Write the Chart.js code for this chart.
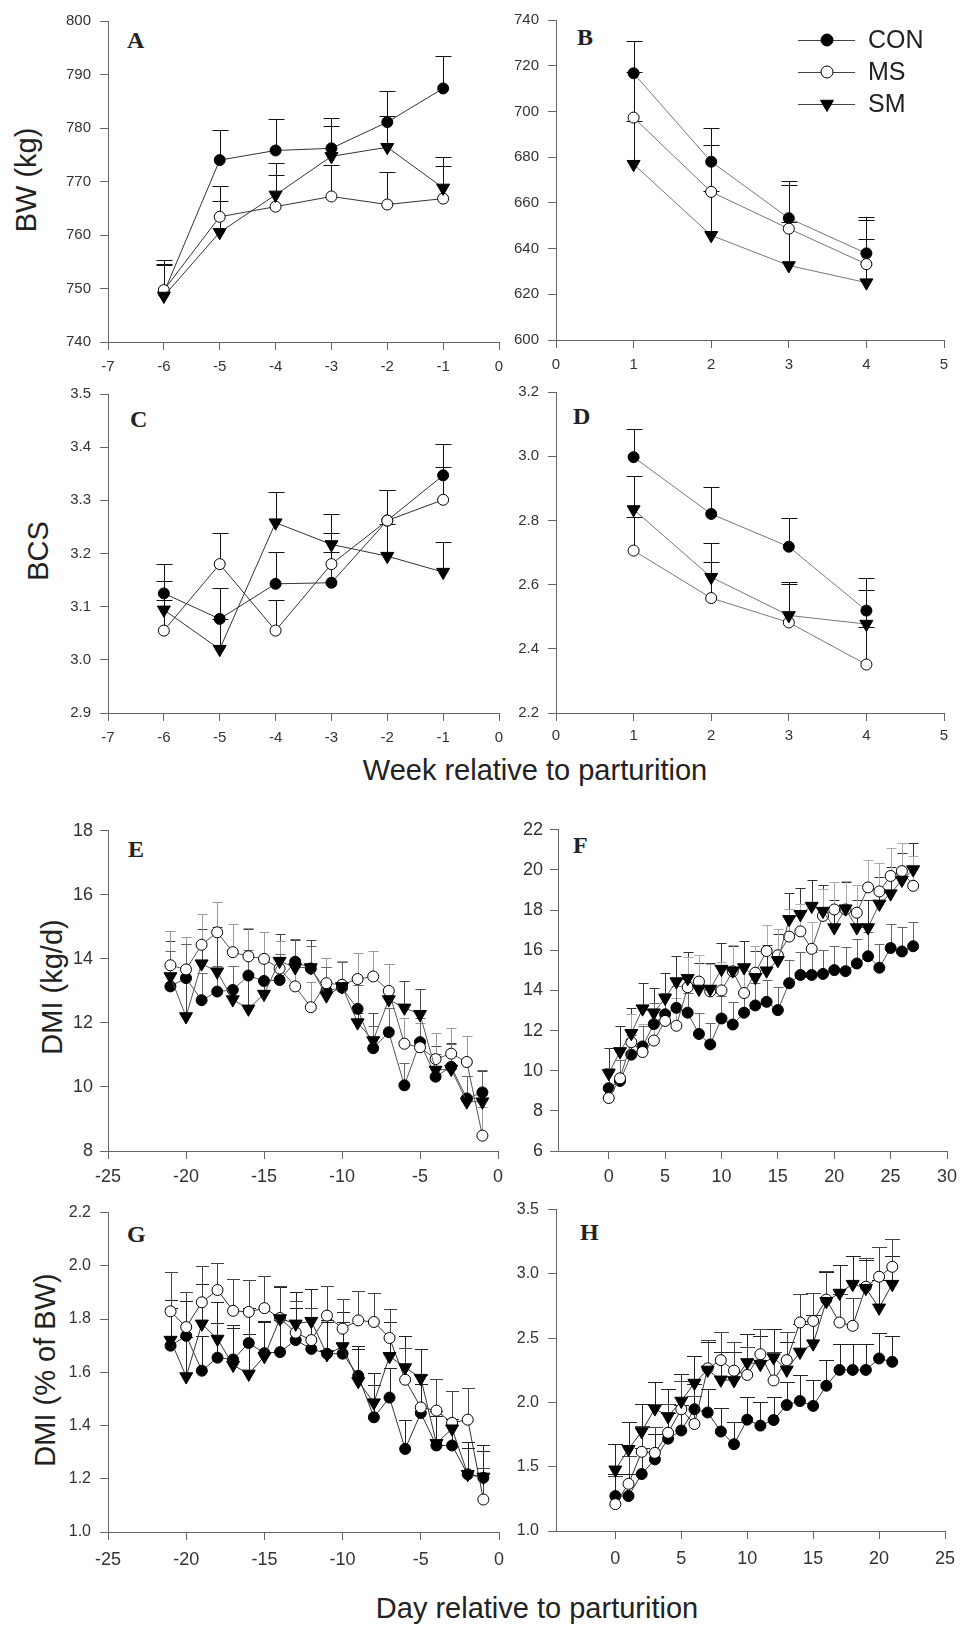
<!DOCTYPE html>
<html>
<head>
<meta charset="utf-8">
<script src="https://cdn.jsdelivr.net/npm/chart.js@4.4.1/dist/chart.umd.min.js"></script>
<style>
  body { margin: 0; background: #fff; width: 963px; height: 1625px; position: relative; overflow: hidden;
         font-family: "Liberation Sans", Arial, sans-serif; color: #222; }
  canvas { position: absolute; }
  .ytitle { position: absolute; font-size: 29px; line-height: 29px; white-space: nowrap;
            transform: translate(-50%, -50%) rotate(-90deg); }
  .xtitle { position: absolute; font-size: 29px; line-height: 29px; white-space: nowrap; transform: translateX(-50%); }
  .letter { position: absolute; font-family: "Liberation Serif", "Times New Roman", serif; font-weight: bold;
            font-size: 24px; line-height: 24px; }
</style>
</head>
<body>
<div class="ytitle" style="left:26px; top:180px;">BW (kg)</div>
<div class="ytitle" style="left:38px; top:551px;">BCS</div>
<div class="ytitle" style="left:52px; top:987px;">DMI (kg/d)</div>
<div class="ytitle" style="left:45px; top:1370px;">DMI (% of BW)</div>
<div class="xtitle" style="left:535px; top:756px;">Week relative to parturition</div>
<div class="xtitle" style="left:537px; top:1594px;">Day relative to parturition</div>
<div class="letter" style="left:127px; top:28px;">A</div>
<div class="letter" style="left:577px; top:25px;">B</div>
<div class="letter" style="left:130px; top:407px;">C</div>
<div class="letter" style="left:573px; top:404px;">D</div>
<div class="letter" style="left:128px; top:837px;">E</div>
<div class="letter" style="left:573px; top:833px;">F</div>
<div class="letter" style="left:127px; top:1222px;">G</div>
<div class="letter" style="left:580px; top:1220px;">H</div>

<script>
// x values
const weeksPre = [-6, -5, -4, -3, -2, -1];
const weeksPost = [1, 2, 3, 4];
const daysPre = [-21, -20, -19, -18, -17, -16, -15, -14, -13, -12, -11, -10, -9, -8, -7, -6, -5, -4, -3, -2, -1];
const daysPostF = [0, 1, 2, 3, 4, 5, 6, 7, 8, 9, 10, 11, 12, 13, 14, 15, 16, 17, 18, 19, 20, 21, 22, 23, 24, 25, 26, 27];
const daysPostH = [0, 1, 2, 3, 4, 5, 6, 7, 8, 9, 10, 11, 12, 13, 14, 15, 16, 17, 18, 19, 20, 21];

// A: BW prepartum
const bwPreCON = [749.2, 774.0, 775.8, 776.2, 781.1, 787.4];
const bwPreMS  = [749.7, 763.4, 765.3, 767.2, 765.7, 766.8];
const bwPreSM  = [748.6, 760.5, 767.5, 774.7, 776.4, 768.8];
const bwPreCONse = [6.2, 5.7, 5.8, 5.6, 5.9, 6.0];
const bwPreMSse  = [4.7, 5.8, 5.9, 5.9, 6.0, 6.1];
const bwPreSMse  = [6.0, 5.9, 6.0, 5.6, 5.9, 5.7];

// B: BW postpartum
const bwPostCON = [716.7, 678.0, 653.3, 637.9];
const bwPostMS  = [697.3, 664.8, 648.7, 633.2];
const bwPostSM  = [676.9, 645.8, 632.6, 625.1];
const bwPostCONse = [14.3, 14.6, 16.1, 16.1];
const bwPostMSse  = [20.1, 20.4, 19.3, 19.5];
const bwPostSMse  = [19.0, 19.3, 19.0, 19.3];

// C: BCS prepartum
const bcsPreCON = [3.125, 3.077, 3.143, 3.145, 3.262, 3.347];
const bcsPreMS  = [3.055, 3.180, 3.055, 3.180, 3.262, 3.301];
const bcsPreSM  = [3.094, 3.020, 3.258, 3.217, 3.195, 3.165];
const bcsPreCONse = [0.056, 0.058, 0.060, 0.057, 0.058, 0.059];
const bcsPreMSse  = [0.057, 0.058, 0.057, 0.058, 0.058, 0.062];
const bcsPreSMse  = [0.054, 0.057, 0.057, 0.057, 0.060, 0.056];

// D: BCS postpartum
const bcsPostCON = [2.997, 2.820, 2.718, 2.519];
const bcsPostMS  = [2.706, 2.558, 2.482, 2.351];
const bcsPostSM  = [2.834, 2.623, 2.504, 2.477];
const bcsPostCONse = [0.087, 0.085, 0.090, 0.102];
const bcsPostMSse  = [0.104, 0.111, 0.119, 0.117];
const bcsPostSMse  = [0.104, 0.106, 0.105, 0.106];

// E: DMI (kg/d) prepartum
const dmiPreCON = [13.14, 13.40, 12.71, 12.98, 13.03, 13.48, 13.31, 13.34, 13.91, 13.70, 13.00, 13.10, 12.44, 11.21, 11.71, 10.05, 11.40, 10.32, 10.63, 9.64, 9.83];
const dmiPreMS  = [13.80, 13.67, 14.44, 14.83, 14.21, 14.08, 14.00, 13.70, 13.14, 12.49, 13.24, 13.19, 13.37, 13.45, 13.00, 11.35, 11.24, 10.87, 11.04, 10.78, 8.48];
const dmiPreSM  = [13.45, 12.20, 13.85, 13.60, 12.73, 12.44, 12.90, 13.93, 13.73, 13.73, 12.85, 13.14, 12.01, 11.45, 12.73, 12.47, 12.27, 10.53, 10.56, 9.54, 9.54];
const dmiPreCONse = [1.10, 1.07, 0.84, 0.80, 0.74, 0.80, 0.75, 0.80, 0.70, 0.70, 0.75, 0.80, 0.75, 0.70, 0.75, 0.70, 0.75, 0.70, 0.70, 0.70, 0.70];
const dmiPreMSse  = [1.06, 1.00, 0.97, 0.94, 0.89, 0.90, 0.85, 0.85, 0.85, 0.80, 0.80, 0.75, 0.80, 0.80, 0.85, 0.80, 0.75, 0.80, 0.80, 0.80, 0.90];
const dmiPreSMse  = [1.12, 2.27, 1.08, 1.40, 1.05, 2.50, 1.00, 0.85, 0.85, 0.85, 0.90, 0.80, 0.30, 0.85, 1.10, 0.85, 0.80, 0.75, 0.80, 0.80, 0.95];

// F: DMI (kg/d) postpartum
const dmiPostCON = [9.13, 9.49, 10.80, 11.21, 12.32, 12.81, 13.13, 12.89, 11.83, 11.31, 12.60, 12.30, 12.89, 13.25, 13.43, 13.02, 14.36, 14.77, 14.77, 14.82, 15.01, 14.96, 15.34, 15.70, 15.13, 16.11, 15.94, 16.20];
const dmiPostMS  = [8.64, 9.62, 11.42, 10.93, 11.50, 12.48, 12.24, 14.16, 14.44, 13.95, 14.00, 14.95, 13.87, 14.88, 15.96, 15.75, 16.68, 16.94, 16.07, 17.71, 18.03, 18.03, 17.87, 19.13, 18.93, 19.70, 19.94, 19.21];
const dmiPostSM  = [9.87, 10.96, 11.86, 13.09, 12.89, 13.62, 14.44, 14.60, 14.07, 14.07, 15.06, 14.98, 15.14, 14.65, 14.98, 15.50, 17.54, 17.79, 18.20, 17.95, 17.13, 18.07, 17.13, 17.13, 18.31, 18.82, 19.50, 20.02];
const dmiPostCONse = [1.00, 1.05, 1.00, 1.00, 1.05, 1.05, 1.10, 1.00, 1.05, 1.05, 1.10, 1.10, 1.10, 1.10, 1.10, 1.15, 1.15, 1.15, 1.15, 1.20, 1.20, 1.20, 1.20, 1.20, 1.20, 1.22, 1.20, 1.21];
const dmiPostMSse  = [1.30, 1.30, 1.40, 1.40, 1.40, 1.40, 1.40, 1.50, 1.30, 1.35, 1.40, 1.30, 1.35, 1.35, 1.30, 1.30, 1.35, 1.35, 1.35, 1.35, 1.35, 1.40, 1.40, 1.35, 1.40, 1.40, 1.40, 1.50];
const dmiPostSMse  = [1.26, 1.25, 1.25, 1.30, 1.25, 1.25, 1.25, 1.30, 1.30, 1.30, 1.30, 1.25, 1.30, 1.30, 1.30, 1.30, 1.31, 1.30, 1.30, 1.30, 1.35, 1.35, 1.35, 1.35, 1.35, 1.35, 1.35, 1.31];

// G: DMI (% of BW) prepartum
const pctPreCON = [1.700, 1.737, 1.606, 1.655, 1.648, 1.710, 1.672, 1.676, 1.721, 1.688, 1.670, 1.670, 1.587, 1.431, 1.505, 1.312, 1.447, 1.325, 1.325, 1.217, 1.204];
const pctPreMS  = [1.829, 1.770, 1.863, 1.909, 1.831, 1.827, 1.841, 1.804, 1.749, 1.721, 1.813, 1.764, 1.795, 1.789, 1.729, 1.572, 1.468, 1.456, 1.410, 1.422, 1.122];
const pctPreSM  = [1.721, 1.584, 1.782, 1.725, 1.627, 1.594, 1.660, 1.802, 1.782, 1.792, 1.667, 1.697, 1.566, 1.486, 1.660, 1.618, 1.578, 1.333, 1.388, 1.217, 1.207];
const pctPreCONse = [0.14, 0.13, 0.13, 0.13, 0.12, 0.13, 0.12, 0.12, 0.12, 0.12, 0.12, 0.12, 0.11, 0.12, 0.11, 0.11, 0.11, 0.11, 0.10, 0.10, 0.10];
const pctPreMSse  = [0.147, 0.13, 0.135, 0.10, 0.12, 0.12, 0.12, 0.12, 0.12, 0.12, 0.11, 0.11, 0.11, 0.11, 0.11, 0.12, 0.12, 0.12, 0.12, 0.12, 0.12];
const pctPreSMse  = [0.15, 0.15, 0.15, 0.14, 0.15, 0.15, 0.13, 0.12, 0.12, 0.12, 0.13, 0.13, 0.12, 0.11, 0.13, 0.12, 0.11, 0.12, 0.14, 0.12, 0.12];

// H: DMI (% of BW) postpartum
const pctPostCON = [1.272, 1.272, 1.443, 1.557, 1.718, 1.782, 1.947, 1.922, 1.774, 1.675, 1.866, 1.820, 1.863, 1.980, 2.011, 1.973, 2.130, 2.253, 2.253, 2.253, 2.342, 2.316];
const pctPostMS  = [1.209, 1.367, 1.616, 1.608, 1.764, 1.947, 1.832, 2.265, 2.329, 2.247, 2.214, 2.375, 2.171, 2.329, 2.622, 2.634, 2.800, 2.622, 2.596, 2.900, 2.978, 3.055];
const pctPostSM  = [1.476, 1.636, 1.774, 1.952, 1.891, 2.011, 2.151, 2.253, 2.176, 2.171, 2.311, 2.298, 2.349, 2.253, 2.393, 2.457, 2.787, 2.851, 2.920, 2.889, 2.736, 2.920];
const pctPostCONse = [0.17, 0.17, 0.20, 0.20, 0.20, 0.20, 0.20, 0.18, 0.18, 0.17, 0.18, 0.18, 0.18, 0.18, 0.20, 0.20, 0.20, 0.20, 0.20, 0.20, 0.20, 0.20];
const pctPostMSse  = [0.22, 0.22, 0.20, 0.20, 0.22, 0.22, 0.22, 0.22, 0.22, 0.22, 0.22, 0.20, 0.22, 0.22, 0.22, 0.22, 0.22, 0.22, 0.22, 0.22, 0.23, 0.22];
const pctPostSMse  = [0.20, 0.21, 0.21, 0.21, 0.21, 0.21, 0.21, 0.22, 0.22, 0.22, 0.22, 0.22, 0.22, 0.22, 0.22, 0.22, 0.23, 0.22, 0.22, 0.22, 0.22, 0.22];

// tick labels
const weekPreTicks = [-7, -6, -5, -4, -3, -2, -1, 0];
const weekPostTicks = [0, 1, 2, 3, 4, 5];
const dayPreTicks = [-25, -20, -15, -10, -5, 0];
const dayPostTicksF = [0, 5, 10, 15, 20, 25, 30];
const dayPostTicksH = [0, 5, 10, 15, 20, 25];
const bwPreTicks = [740, 750, 760, 770, 780, 790, 800];
const bwPostTicks = [600, 620, 640, 660, 680, 700, 720, 740];
const bcsPreTicks = [2.9, 3.0, 3.1, 3.2, 3.3, 3.4, 3.5];
const bcsPostTicks = [2.2, 2.4, 2.6, 2.8, 3.0, 3.2];
const dmiPreTicks = [8, 10, 12, 14, 16, 18];
const dmiPostTicks = [6, 8, 10, 12, 14, 16, 18, 20, 22];
const pctPreTicks = [1.0, 1.2, 1.4, 1.6, 1.8, 2.0, 2.2];
const pctPostTicks = [1.0, 1.5, 2.0, 2.5, 3.0, 3.5];

const legendLabels = ['CON', 'MS', 'SM'];

Chart.defaults.font.family = '"Liberation Sans", Arial, sans-serif';

const Y_AXIS_W = 60, X_AXIS_H = 46, PAD_TOP = 12, PAD_RIGHT = 22;

// upward SE bars, drawn beneath the markers
const errorBars = {
  id: 'errorBars',
  beforeDatasetsDraw(chart) {
    const { ctx, scales: { x, y } } = chart;
    ctx.save();
    ctx.lineWidth = 1;
    chart.data.datasets.forEach(ds => {
      ctx.strokeStyle = ds.errorColor;
      ds.data.forEach((p, j) => {
        const px = Math.round(x.getPixelForValue(p.x)) + 0.5;
        const py = y.getPixelForValue(p.y);
        const pt = Math.round(y.getPixelForValue(p.y + ds.errors[j])) + 0.5;
        ctx.beginPath();
        ctx.moveTo(px, py);
        ctx.lineTo(px, pt);
        ctx.moveTo(px - ds.capHalf, pt);
        ctx.lineTo(px + ds.capHalf, pt);
        ctx.stroke();
      });
    });
    ctx.restore();
  }
};

function drawMarker(ctx, kind, x, y) {
  ctx.beginPath();
  if (kind === 'tri') {
    const r = 7.5;
    ctx.moveTo(x, y + r);
    ctx.lineTo(x - r * 0.866, y - r / 2);
    ctx.lineTo(x + r * 0.866, y - r / 2);
    ctx.closePath();
  } else {
    ctx.arc(x, y, 6, 0, Math.PI * 2);
  }
  ctx.fillStyle = kind === 'open' ? '#fff' : '#000';
  ctx.fill();
  ctx.strokeStyle = '#000';
  ctx.lineWidth = 1;
  ctx.stroke();
}

const legendBox = {
  id: 'legendBox',
  afterDraw(chart) {
    const ctx = chart.ctx;
    const kinds = ['filled', 'open', 'tri'];
    const rowsY = [38, 70, 102];
    ctx.save();
    legendLabels.forEach((lab, i) => {
      const yy = rowsY[i];
      ctx.strokeStyle = '#444';
      ctx.lineWidth = 1;
      ctx.beginPath();
      ctx.moveTo(302, yy + 0.5);
      ctx.lineTo(359, yy + 0.5);
      ctx.stroke();
      drawMarker(ctx, kinds[i], 331, yy);
      ctx.fillStyle = '#222';
      ctx.font = '25px "Liberation Sans", Arial, sans-serif';
      ctx.textBaseline = 'middle';
      ctx.textAlign = 'left';
      ctx.fillText(lab, 372, yy + 1);
    });
    ctx.restore();
  }
};

function axis(min, max, ticks, dec, isY, fontSize, pad) {
  return {
    type: 'linear',
    min: min,
    max: max,
    bounds: 'data',
    afterBuildTicks: s => { s.ticks = ticks.map(v => ({ value: v })); },
    afterFit: s => { if (isY) s.width = Y_AXIS_W; else s.height = X_AXIS_H; },
    border: { display: true, color: '#666', width: 1 },
    grid: { drawOnChartArea: false, drawTicks: true, tickLength: 8, color: '#666', lineWidth: 1 },
    ticks: {
      color: '#333',
      font: { size: fontSize },
      padding: pad,
      autoSkip: false,
      maxRotation: 0,
      callback: v => Number(v).toFixed(dec)
    }
  };
}

function makePanel(p) {
  const canvas = document.createElement('canvas');
  const w = Y_AXIS_W + (p.area[2] - p.area[0]) + PAD_RIGHT;
  const h = PAD_TOP + (p.area[3] - p.area[1]) + X_AXIS_H;
  canvas.width = w;
  canvas.height = h;
  canvas.style.left = (p.area[0] - Y_AXIS_W) + 'px';
  canvas.style.top = (p.area[1] - PAD_TOP) + 'px';
  document.body.appendChild(canvas);

  const series = [
    { label: 'SM', y: p.sm, se: p.smSE, style: 'triangle', rot: 180, r: 7.5, fill: '#000', ec: p.errColors[2] },
    { label: 'MS', y: p.ms, se: p.msSE, style: 'circle', rot: 0, r: 5.5, fill: '#fff', ec: p.errColors[1] },
    { label: 'CON', y: p.con, se: p.conSE, style: 'circle', rot: 0, r: 5.5, fill: '#000', ec: p.errColors[0] }
  ];

  new Chart(canvas, {
    type: 'line',
    data: {
      datasets: series.map(s => ({
        label: s.label,
        data: p.x.map((xv, i) => ({ x: xv, y: s.y[i] })),
        errors: s.se,
        errorColor: s.ec,
        capHalf: p.cap,
        borderColor: p.lineColor,
        borderWidth: 1,
        pointStyle: s.style,
        rotation: s.rot,
        pointRadius: s.r,
        pointBackgroundColor: s.fill,
        pointBorderColor: '#000',
        pointBorderWidth: 1,
        tension: 0,
        fill: false
      }))
    },
    options: {
      responsive: false,
      devicePixelRatio: 1,
      animation: false,
      events: [],
      layout: { padding: { top: PAD_TOP, right: PAD_RIGHT, left: 0, bottom: 0 } },
      plugins: { legend: { display: false }, tooltip: { enabled: false } },
      scales: {
        x: axis(p.xMin, p.xMax, p.xTicks, 0, false, p.xFont, p.xPad),
        y: axis(p.yMin, p.yMax, p.yTicks, p.dec, true, p.yFont, p.yPad)
      }
    },
    plugins: p.legend ? [errorBars, legendBox] : [errorBars]
  });
}

const dark = ['#111', '#111', '#111'];
const panels = [
  { x: weeksPre, con: bwPreCON, ms: bwPreMS, sm: bwPreSM, conSE: bwPreCONse, msSE: bwPreMSse, smSE: bwPreSMse,
    area: [108, 15, 499, 342], xMin: -7, xMax: 0, xTicks: weekPreTicks, yMin: 740, yMax: 800, yTicks: bwPreTicks, dec: 0,
    lineColor: '#333', errColors: dark, cap: 8, xFont: 15, xPad: 8, yFont: 15, yPad: 9 },
  { x: weeksPost, con: bwPostCON, ms: bwPostMS, sm: bwPostSM, conSE: bwPostCONse, msSE: bwPostMSse, smSE: bwPostSMse,
    area: [556, 14, 944, 340], xMin: 0, xMax: 5, xTicks: weekPostTicks, yMin: 600, yMax: 740, yTicks: bwPostTicks, dec: 0,
    lineColor: '#777', errColors: dark, cap: 8, legend: true, xFont: 15, xPad: 8, yFont: 15, yPad: 9 },
  { x: weeksPre, con: bcsPreCON, ms: bcsPreMS, sm: bcsPreSM, conSE: bcsPreCONse, msSE: bcsPreMSse, smSE: bcsPreSMse,
    area: [108, 388, 499, 713], xMin: -7, xMax: 0, xTicks: weekPreTicks, yMin: 2.9, yMax: 3.5, yTicks: bcsPreTicks, dec: 1,
    lineColor: '#333', errColors: dark, cap: 8, xFont: 15, xPad: 8, yFont: 15, yPad: 9 },
  { x: weeksPost, con: bcsPostCON, ms: bcsPostMS, sm: bcsPostSM, conSE: bcsPostCONse, msSE: bcsPostMSse, smSE: bcsPostSMse,
    area: [556, 386, 944, 713], xMin: 0, xMax: 5, xTicks: weekPostTicks, yMin: 2.2, yMax: 3.2, yTicks: bcsPostTicks, dec: 1,
    lineColor: '#777', errColors: dark, cap: 8, xFont: 15, xPad: 6, yFont: 15, yPad: 9 },
  { x: daysPre, con: dmiPreCON, ms: dmiPreMS, sm: dmiPreSM, conSE: dmiPreCONse, msSE: dmiPreMSse, smSE: dmiPreSMse,
    area: [108, 825, 498, 1151], xMin: -25, xMax: 0, xTicks: dayPreTicks, yMin: 8, yMax: 18, yTicks: dmiPreTicks, dec: 0,
    lineColor: '#555', errColors: ['#666', '#999', '#444'], cap: 5, xFont: 18, xPad: 7, yFont: 18, yPad: 7 },
  { x: daysPostF, con: dmiPostCON, ms: dmiPostMS, sm: dmiPostSM, conSE: dmiPostCONse, msSE: dmiPostMSse, smSE: dmiPostSMse,
    area: [558, 824, 947, 1151], xMin: -4.5, xMax: 30, xTicks: dayPostTicksF, yMin: 6, yMax: 22, yTicks: dmiPostTicks, dec: 0,
    lineColor: '#555', errColors: ['#666', '#aaa', '#333'], cap: 5, xFont: 18, xPad: 7, yFont: 18, yPad: 7 },
  { x: daysPre, con: pctPreCON, ms: pctPreMS, sm: pctPreSM, conSE: pctPreCONse, msSE: pctPreMSse, smSE: pctPreSMse,
    area: [108, 1206, 499, 1532], xMin: -25, xMax: 0, xTicks: dayPreTicks, yMin: 1.0, yMax: 2.2, yTicks: pctPreTicks, dec: 1,
    lineColor: '#333', errColors: ['#222', '#444', '#222'], cap: 6.5, xFont: 18, xPad: 9, yFont: 16, yPad: 9 },
  { x: daysPostH, con: pctPostCON, ms: pctPostMS, sm: pctPostSM, conSE: pctPostCONse, msSE: pctPostMSse, smSE: pctPostSMse,
    area: [556, 1203, 945, 1531], xMin: -4.5, xMax: 25, xTicks: dayPostTicksH, yMin: 1.0, yMax: 3.5, yTicks: pctPostTicks, dec: 1,
    lineColor: '#333', errColors: ['#222', '#444', '#222'], cap: 7.5, xFont: 18, xPad: 9, yFont: 16, yPad: 9 }
];

panels.forEach(makePanel);
</script>
</body>
</html>
